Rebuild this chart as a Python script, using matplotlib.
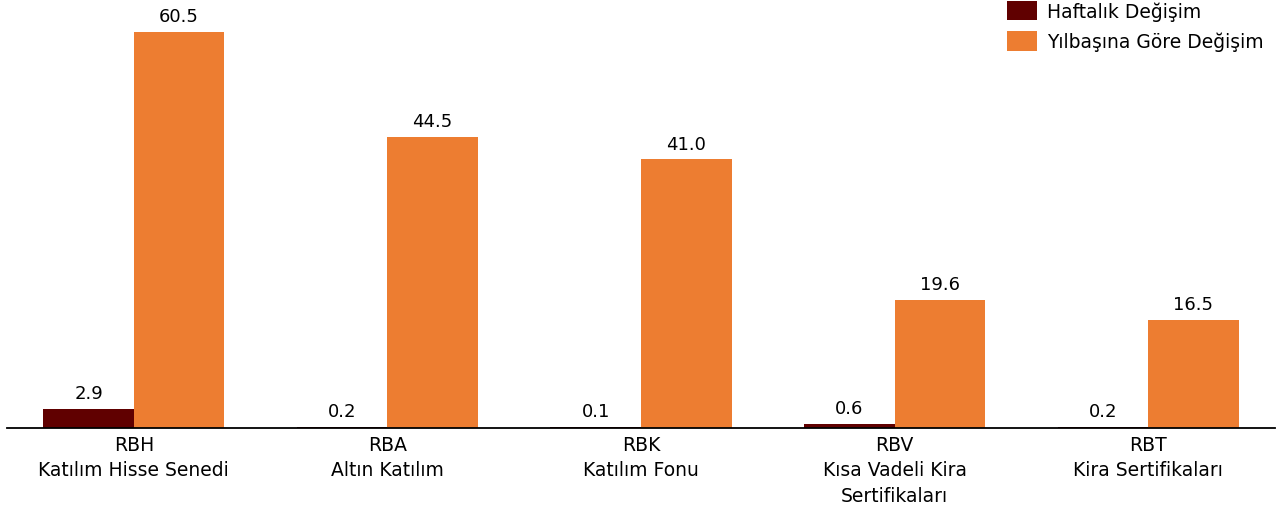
import matplotlib.pyplot as plt
import numpy as np

categories = [
    "RBH\nKatılım Hisse Senedi",
    "RBA\nAltın Katılım",
    "RBK\nKatılım Fonu",
    "RBV\nKısa Vadeli Kira\nSertifikaları",
    "RBT\nKira Sertifikaları",
]
weekly = [2.9, 0.2, 0.1, 0.6, 0.2]
ytd = [60.5, 44.5, 41.0, 19.6, 16.5]
series_names = ["Haftalık Değişim", "Yılbaşına Göre Değişim"]

DARK = "#600000"
ORANGE = "#ED7D31"


def main() -> None:
    fig = plt.figure(figsize=(12.82, 5.10), dpi=100)
    ax = fig.add_axes([7 / 1282, 81 / 510, 1268 / 1282, 429 / 510])

    x = np.arange(len(categories))
    w = 0.357
    b1 = ax.bar(x - w / 2, weekly, w, color=DARK, label=series_names[0])
    b2 = ax.bar(x + w / 2, ytd, w, color=ORANGE, label=series_names[1])

    for bars in (b1, b2):
        ax.bar_label(bars, fmt="%.1f", padding=5, fontsize=13)

    ax.set_xlim(-0.5, 4.5)
    ax.set_ylim(0, 65.5)
    ax.set_xticks(x)
    ax.set_xticklabels(categories, fontsize=13.5, linespacing=1.42)
    ax.tick_params(axis="x", length=0, pad=5)
    ax.set_yticks([])
    for side in ("top", "right", "left"):
        ax.spines[side].set_visible(False)
    ax.spines["bottom"].set_linewidth(1.3)

    fig.legend(
        loc="upper left",
        bbox_to_anchor=(999 / 1282, 1 + 6 / 510),
        frameon=False,
        fontsize=13.5,
        handlelength=1.65,
        handleheight=1.25,
        handletextpad=0.5,
        labelspacing=0.55,
        borderaxespad=0,
    )

    fig.savefig("out.png", dpi=100)


if __name__ == "__main__":
    main()
